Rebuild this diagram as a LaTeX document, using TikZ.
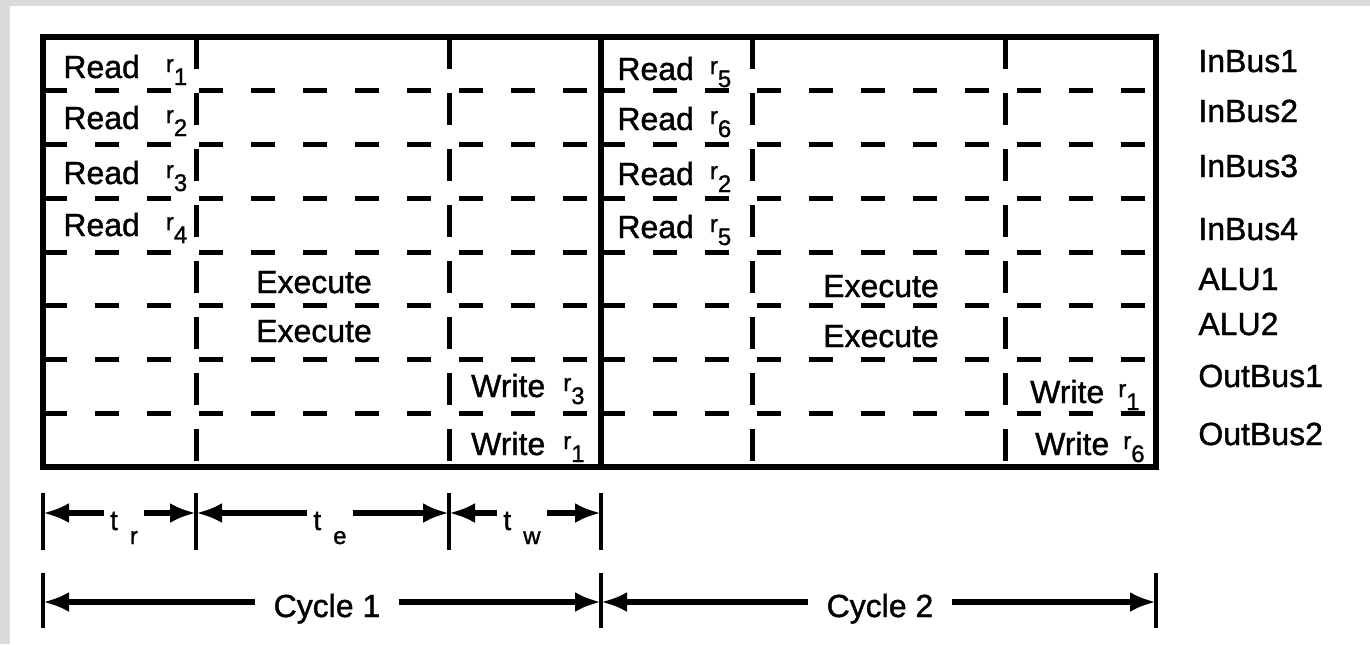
\documentclass[tikz,border=0pt]{standalone}
\usepackage{fontspec}
\setmainfont{Liberation Sans}[FakeBold=1.2]
\usetikzlibrary{arrows.meta, calc, positioning}

\newcommand{\subsz}{\fontsize{12}{14}\selectfont}
\newcommand{\rsub}[1]{\raisebox{3pt}{\subsz r}\raisebox{-3.5pt}{\subsz #1}}
\newcommand{\tsub}[1]{t\hspace{6pt}\raisebox{-7pt}{\subsz #1}}

\begin{document}
\begin{tikzpicture}[
    x=0.5pt, y=-0.5pt,
    >={Latex[length=13pt,width=10pt]},
    every node/.style={font=\fontsize{16}{19}\selectfont, inner sep=0pt},
    frame/.style={line width=3.2pt},
    hgrid/.style={line width=2.5pt, dash pattern=on 12pt off 14pt},
    vgrid/.style={line width=2.5pt, dash pattern=on 16pt off 12pt},
    slot/.style={anchor=base west},
    slotr/.style={anchor=base east},
    exec/.style={anchor=base},
    bus/.style={anchor=base west},
    span/.style={anchor=base, inner xsep=3pt},
    cyc/.style={anchor=base, inner xsep=9pt},
    tick/.style={line width=2.2pt},
    dim/.style={->, line width=2.6pt}
]
% page, with the grey scan edge
\fill[white] (0,0) rectangle (1370,644);
\fill[black!14] (0,0) rectangle (1370,6);
\fill[black!14] (0,0) rectangle (10,644);
\useasboundingbox (0,0) rectangle (1370,644);

% slot grid
\foreach \k in {1,...,7}
    \draw[hgrid] (43,{37+\k*53.75}) -- (601,{37+\k*53.75})
                 (601,{37+\k*53.75}) -- (1156,{37+\k*53.75});
\foreach \x in {196,449,752,1005}
    \draw[vgrid] (\x,37) -- (\x,467);
\draw[frame] (43,37) rectangle (1156,467);
\draw[frame] (601,37) -- (601,467);

% cycle 1
\node[slot] (rd1) at (63,78) {Read\hspace{13pt}\rsub{1}};
\node[slot] (rd2) at (63,129) {Read\hspace{13pt}\rsub{2}};
\node[slot] (rd3) at (63,184) {Read\hspace{13pt}\rsub{3}};
\node[slot] (rd4) at (63,236) {Read\hspace{13pt}\rsub{4}};
\node[exec] (ex1) at (314,293) {Execute};
\node[exec] (ex2) at (314,342) {Execute};
\node[slotr] (wr1) at (585,397) {Write\hspace{9pt}\rsub{3}};
\node[slotr] (wr2) at (585,455) {Write\hspace{9pt}\rsub{1}};

% cycle 2
\node[slot] (rd5) at (617,80) {Read\hspace{8pt}\rsub{5}};
\node[slot] (rd6) at (617,130) {Read\hspace{8pt}\rsub{6}};
\node[slot] (rd7) at (617,185) {Read\hspace{8pt}\rsub{2}};
\node[slot] (rd8) at (617,238) {Read\hspace{8pt}\rsub{5}};
\node[exec] (ex3) at (881,297) {Execute};
\node[exec] (ex4) at (881,347) {Execute};
\node[slotr] (wr3) at (1140,403) {Write\hspace{7pt}\rsub{1}};
\node[slotr] (wr4) at (1145,455) {Write\hspace{7pt}\rsub{6}};

% units
\node[bus] (b1) at (1198,72) {InBus1};
\node[bus] (b2) at (1198,122) {InBus2};
\node[bus] (b3) at (1198,177) {InBus3};
\node[bus] (b4) at (1198,240) {InBus4};
\node[bus] (b5) at (1198,290) {ALU1};
\node[bus] (b6) at (1198,335) {ALU2};
\node[bus] (b7) at (1198,387) {OutBus1};
\node[bus] (b8) at (1198,445) {OutBus2};

% phase spans
\coordinate (d0) at (43,513);
\coordinate (d1) at (196,513);
\coordinate (d2) at (449,513);
\coordinate (d3) at (601,513);
\foreach \c in {d0,d1,d2,d3}
    \draw[tick] ($(\c)+(0,-20)$) -- ($(\c)+(0,37)$);
\node[span] (tr) at (124,530) {\fontsize{14}{16}\selectfont\tsub{r}};
\node[span] (te) at (330,530) {\fontsize{14}{16}\selectfont\tsub{e}};
\node[span] (tw) at (522,530) {\fontsize{14}{16}\selectfont\tsub{w}};
\draw[dim] (tr.west |- d0) -- (d0);
\draw[dim] (tr.east |- d0) -- (d1);
\draw[dim] (te.west |- d0) -- (d1);
\draw[dim] (te.east |- d0) -- (d2);
\draw[dim] (tw.west |- d0) -- (d2);
\draw[dim] (tw.east |- d0) -- (d3);

% cycle spans
\coordinate (e0) at (43,602);
\coordinate (e1) at (601,602);
\coordinate (e2) at (1156,602);
\foreach \c in {e0,e1,e2}
    \draw[tick] ($(\c)+(0,-29)$) -- ($(\c)+(0,26)$);
\node[cyc] (c1) at (327,617) {Cycle 1};
\node[cyc] (c2) at (880,617) {Cycle 2};
\draw[dim] (c1.west |- e0) -- (e0);
\draw[dim] (c1.east |- e0) -- (e1);
\draw[dim] (c2.west |- e0) -- (e1);
\draw[dim] (c2.east |- e0) -- (e2);
\end{tikzpicture}
\end{document}
